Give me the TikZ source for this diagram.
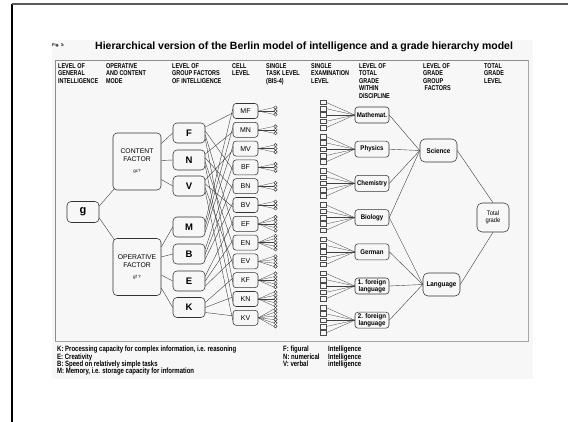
\documentclass[tikz,border=0pt]{standalone}
\usepackage{fontspec}
\setmainfont{Liberation Sans}
\newfontfamily\narrowfont[FakeStretch=0.78]{Liberation Sans}
\newfontfamily\semifont[FakeStretch=0.9]{Liberation Sans}
\usetikzlibrary{calc}

\tikzset{
  hdr/.style={anchor=north west, inner sep=0pt, align=left,
    font=\narrowfont\bfseries\fontsize{7}{7.5}\selectfont},
  leg/.style={anchor=north west, inner sep=0pt, align=left,
    font=\narrowfont\bfseries\fontsize{7.7}{7.4}\selectfont},
  rbox/.style={draw=black!80, line width=0.55pt, rounded corners=4pt,
    inner sep=0pt, align=center},
  grp/.style={rbox, minimum width=32pt, minimum height=20pt,
    font=\bfseries\fontsize{9.5}{10}\selectfont},
  mode/.style={rbox, minimum width=48pt, minimum height=57pt,
    font=\fontsize{6.8}{8}\selectfont},
  cell/.style={rbox, rounded corners=3pt, minimum width=25pt, minimum height=15pt,
    font=\fontsize{7}{8}\selectfont},
  disc/.style={rbox, rounded corners=3pt, minimum width=34pt, minimum height=16pt,
    font=\semifont\bfseries\fontsize{6.8}{6.8}\selectfont},
  gfac/.style={rbox, rounded corners=5pt, minimum width=37pt, minimum height=23pt,
    font=\semifont\bfseries\fontsize{7}{8}\selectfont},
  task/.style={draw=black!80, line width=0.45pt, circle, inner sep=0pt, minimum size=3.4pt},
  exam/.style={draw=black!70, line width=0.45pt, rectangle, inner sep=0pt,
    minimum width=6pt, minimum height=4.6pt},
  link/.style={draw=black!75, line width=0.4pt},
}

\begin{document}
\begin{tikzpicture}[x=1pt, y=-1pt]
\useasboundingbox (0,0) rectangle (568,422);
\fill[white] (0,0) rectangle (568,422);

% page edges
\draw[black, line width=1.3pt] (12,4) -- (12,422);
\draw[black!65, line width=1.3pt] (12,4) -- (568,4);

% plate
\fill[black!3] (52,40) rectangle (533,379);
\draw[black!45, line width=0.6pt] (55,60) rectangle (528,341);
\draw[black!35, line width=1.4pt] (528.5,60) -- (528.5,341.5) -- (55,341.5);

% caption
\node[anchor=west, inner sep=0pt, font=\bfseries\fontsize{4}{5}\selectfont] (fig) at (52,45) {Fig. 3:};
\node[anchor=west, inner sep=0pt, font=\bfseries\fontsize{10.5}{12}\selectfont] (title) at (95,47)
  {Hierarchical version of the Berlin model of intelligence and a grade hierarchy model};

% column headings
\node[hdr] (h1) at (58,63) {LEVEL OF\\GENERAL\\INTELLIGENCE};
\node[hdr] (h2) at (106,63) {OPERATIVE\\AND CONTENT\\MODE};
\node[hdr] (h3) at (172,63) {LEVEL OF\\GROUP FACTORS\\OF INTELLIGENCE};
\node[hdr] (h4) at (232,63) {CELL\\LEVEL};
\node[hdr] (h5) at (266,63) {SINGLE\\TASK LEVEL\\(BIS-4)};
\node[hdr] (h6) at (311,63) {SINGLE\\EXAMINATION\\LEVEL};
\node[hdr] (h7) at (359,63) {LEVEL OF\\TOTAL\\GRADE\\WITHIN\\DISCIPLINE};
\node[hdr] (h8) at (423,63) {LEVEL OF\\GRADE\\GROUP\\\ FACTORS};
\node[hdr] (h9) at (484,63) {TOTAL\\GRADE\\LEVEL};

% general factor and modes
\node[rbox, minimum width=32pt, minimum height=21pt,
  font=\bfseries\fontsize{11}{12}\selectfont] (g) at (83,212) {g};
\node[mode] (cf) at (137,161.5) {CONTENT\\FACTOR\\[3pt]{\fontsize{4.5}{5}\selectfont gc?}};
\node[mode] (of) at (137,267) {OPERATIVE\\FACTOR\\[3pt]{\fontsize{4.5}{5}\selectfont gf ?}};

\draw[link] ($(g.east)+(0,-6)$) -- ($(cf.south west)+(2,-2)$);
\draw[link] ($(g.east)+(0,6)$) -- ($(of.north west)+(2,2)$);

% group factors
\foreach \n/\y in {F/133,N/160,V/186,M/227,B/254,E/281,K/307.5}
  \node[grp] (\n) at (189,\y) {\n};

\draw[link] ($(cf.east)+(0,-18)$) -- (F.west);
\draw[link] ($(cf.east)+(0,-1)$) -- (N.west);
\draw[link] ($(cf.east)+(0,18)$) -- (V.west);
\draw[link] ($(of.east)+(0,-20)$) -- (M.west);
\draw[link] ($(of.east)+(0,-10)$) -- (B.west);
\draw[link] ($(of.east)+(0,8)$) -- (E.west);
\draw[link] ($(of.east)+(0,21)$) -- (K.west);

% cells with their tasks
\foreach \n/\c [count=\i from 0] in {MF/3,MN/3,MV/3,BF/3,BN/3,BV/3,EF/5,EN/5,EV/4,KF/5,KN/5,KV/6} {
  \node[cell] (\n) at (245.5,{111+18.8*\i}) {\n};
  \foreach \k in {1,...,\c} {
    \node[task] (\n-\k) at ($(\n.center)+(30,{(\k-(\c+1)/2)*3.4})$) {};
    \draw[link, line width=0.3pt] (\n.east) -- (\n-\k.west);
  }
}

% operation factors to cells
\foreach \src/\a/\b/\c in {M/MF/MN/MV,B/BF/BN/BV,E/EF/EN/EV,K/KF/KN/KV} {
  \draw[link] ($(\src.east)+(0,-5)$) -- ($(\a.west)+(0,-2)$);
  \draw[link] ($(\src.east)+(0,0)$) -- ($(\b.west)+(0,-2)$);
  \draw[link] ($(\src.east)+(0,5)$) -- ($(\c.west)+(0,-2)$);
}
% content factors to cells
\foreach \src/\a/\b/\c/\d in {F/MF/BF/EF/KF,N/MN/BN/EN/KN,V/MV/BV/EV/KV} {
  \draw[link] ($(\src.east)+(0,-6)$) -- ($(\a.west)+(0,2)$);
  \draw[link] ($(\src.east)+(0,-2)$) -- ($(\b.west)+(0,2)$);
  \draw[link] ($(\src.east)+(0,2)$) -- ($(\c.west)+(0,2)$);
  \draw[link] ($(\src.east)+(0,6)$) -- ($(\d.west)+(0,2)$);
}

% disciplines with their examinations
\foreach \n/\t [count=\i from 0] in {math/Mathemat.,phys/Physics,chem/Chemistry,bio/Biology,ger/German,
    flone/{1. foreign\\language},fltwo/{2. foreign\\language}} {
  \node[disc] (\n) at (372,{115+34.2*\i}) {\t};
  \foreach \k in {1,...,5} {
    \node[exam] (\n-\k) at ($(\n.center)+(-49,{(\k-3)*6.3})$) {};
    \draw[link, line width=0.3pt] (\n-\k.east) -- (\n.west);
  }
}

% grade group factors and total grade
\node[gfac] (sci) at (438.5,150.5) {Science};
\node[gfac] (lang) at (441.5,284.5) {Language};
\node[rbox, rounded corners=5pt, minimum width=32pt, minimum height=29pt,
  font=\semifont\fontsize{6.5}{7.5}\selectfont] (tot) at (493,217.5) {Total\\grade};

\foreach \n in {math,phys,chem,bio}
  \draw[link] (\n.east) -- (sci.west);
\foreach \n in {bio,ger,flone,fltwo}
  \draw[link] (\n.east) -- (lang.west);
\draw[link] (sci.east) -- (tot.north);
\draw[link] (lang.east) -- (tot.south);

% legend
\node[leg] (leg1) at (57,346) {K: Processing capacity for complex information, i.e. reasoning\\E: Creativity\\B: Speed on relatively simple tasks\\M: Memory, i.e. storage capacity for information};
\node[leg] (leg2) at (283,346) {F: figural\\N: numerical\\V: verbal};
\node[leg] (leg3) at (328,346) {Intelligence\\Intelligence\\intelligence};
\end{tikzpicture}
\end{document}
